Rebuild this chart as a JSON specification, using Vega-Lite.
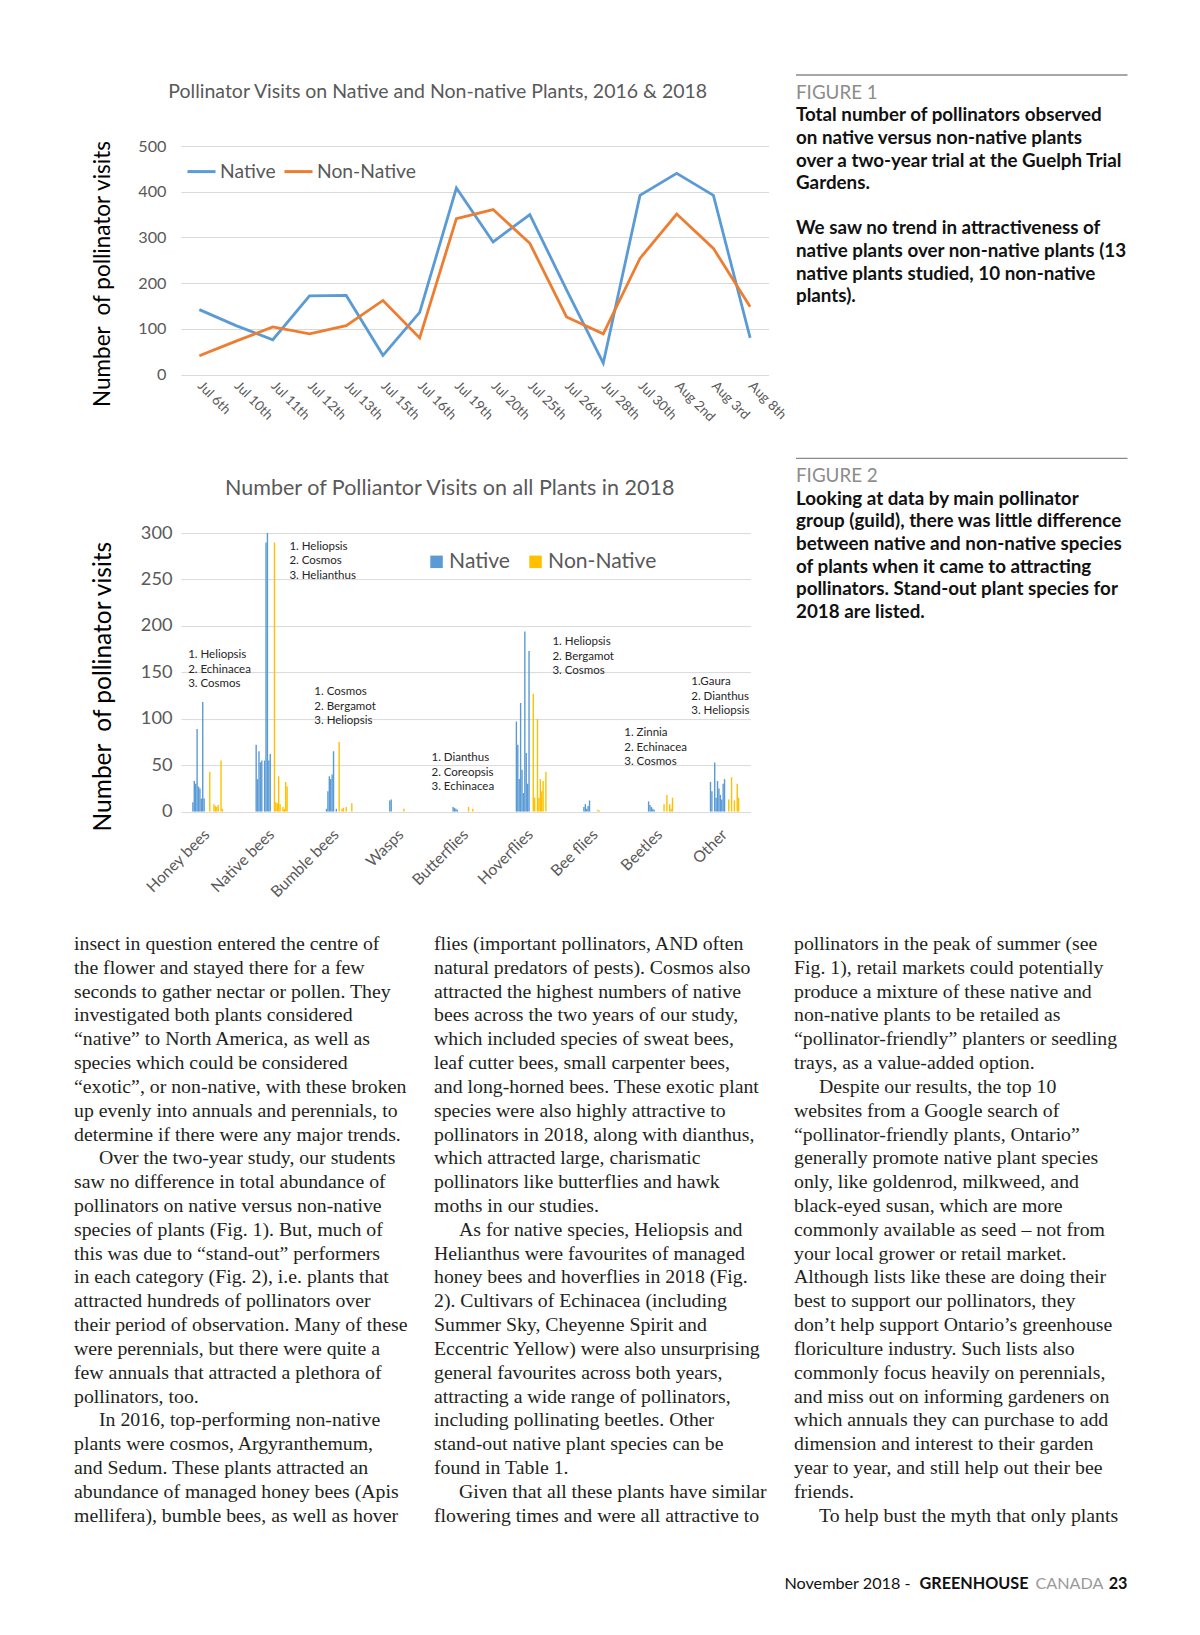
{
  "$schema": "https://vega.github.io/schema/vega-lite/v6.json",
  "background": "white",
  "padding": {"left": 74, "top": 74, "right": 0, "bottom": 0},
  "config": {
    "view": {"stroke": null},
    "font": "Lato",
    "axis": {"labelFont": "Lato", "titleFont": "Lato"},
    "legend": {"labelFont": "Lato"},
    "title": {"font": "Lato"}
  },
  "datasets": {
    "visits": [
      {"date": "Jul 6th", "series": "Native", "visits": 142},
      {"date": "Jul 10th", "series": "Native", "visits": 107},
      {"date": "Jul 11th", "series": "Native", "visits": 76},
      {"date": "Jul 12th", "series": "Native", "visits": 172},
      {"date": "Jul 13th", "series": "Native", "visits": 173},
      {"date": "Jul 15th", "series": "Native", "visits": 42},
      {"date": "Jul 16th", "series": "Native", "visits": 136},
      {"date": "Jul 19th", "series": "Native", "visits": 408},
      {"date": "Jul 20th", "series": "Native", "visits": 290},
      {"date": "Jul 25th", "series": "Native", "visits": 350},
      {"date": "Jul 26th", "series": "Native", "visits": 185},
      {"date": "Jul 28th", "series": "Native", "visits": 25},
      {"date": "Jul 30th", "series": "Native", "visits": 392},
      {"date": "Aug 2nd", "series": "Native", "visits": 440},
      {"date": "Aug 3rd", "series": "Native", "visits": 392},
      {"date": "Aug 8th", "series": "Native", "visits": 80},
      {"date": "Jul 6th", "series": "Non-Native", "visits": 41},
      {"date": "Jul 10th", "series": "Non-Native", "visits": 73},
      {"date": "Jul 11th", "series": "Non-Native", "visits": 104},
      {"date": "Jul 12th", "series": "Non-Native", "visits": 89},
      {"date": "Jul 13th", "series": "Non-Native", "visits": 107},
      {"date": "Jul 15th", "series": "Non-Native", "visits": 162},
      {"date": "Jul 16th", "series": "Non-Native", "visits": 80},
      {"date": "Jul 19th", "series": "Non-Native", "visits": 341},
      {"date": "Jul 20th", "series": "Non-Native", "visits": 361},
      {"date": "Jul 25th", "series": "Non-Native", "visits": 287},
      {"date": "Jul 26th", "series": "Non-Native", "visits": 126},
      {"date": "Jul 28th", "series": "Non-Native", "visits": 89},
      {"date": "Jul 30th", "series": "Non-Native", "visits": 254},
      {"date": "Aug 2nd", "series": "Non-Native", "visits": 351},
      {"date": "Aug 3rd", "series": "Non-Native", "visits": 276},
      {"date": "Aug 8th", "series": "Non-Native", "visits": 148}
    ],
    "guild": [
      {"g": "Honey bees", "p": "N02", "t": "Native", "v": 10},
      {"g": "Honey bees", "p": "N03", "t": "Native", "v": 33},
      {"g": "Honey bees", "p": "N04", "t": "Native", "v": 30},
      {"g": "Honey bees", "p": "N05", "t": "Native", "v": 89},
      {"g": "Honey bees", "p": "N06", "t": "Native", "v": 27},
      {"g": "Honey bees", "p": "N07", "t": "Native", "v": 25},
      {"g": "Honey bees", "p": "N08", "t": "Native", "v": 14},
      {"g": "Honey bees", "p": "N09", "t": "Native", "v": 118},
      {"g": "Honey bees", "p": "N10", "t": "Native", "v": 14},
      {"g": "Honey bees", "p": "X01", "t": "Non-Native", "v": 43},
      {"g": "Honey bees", "p": "X04", "t": "Non-Native", "v": 8},
      {"g": "Honey bees", "p": "X05", "t": "Non-Native", "v": 6},
      {"g": "Honey bees", "p": "X06", "t": "Non-Native", "v": 5},
      {"g": "Honey bees", "p": "X07", "t": "Non-Native", "v": 7},
      {"g": "Honey bees", "p": "X09", "t": "Non-Native", "v": 55},
      {"g": "Honey bees", "p": "X10", "t": "Non-Native", "v": 3},
      {"g": "Native bees", "p": "N01", "t": "Native", "v": 72},
      {"g": "Native bees", "p": "N02", "t": "Native", "v": 35},
      {"g": "Native bees", "p": "N03", "t": "Native", "v": 65},
      {"g": "Native bees", "p": "N04", "t": "Native", "v": 53},
      {"g": "Native bees", "p": "N05", "t": "Native", "v": 55},
      {"g": "Native bees", "p": "N07", "t": "Native", "v": 55},
      {"g": "Native bees", "p": "N08", "t": "Native", "v": 290},
      {"g": "Native bees", "p": "N09", "t": "Native", "v": 300},
      {"g": "Native bees", "p": "N10", "t": "Native", "v": 55},
      {"g": "Native bees", "p": "N11", "t": "Native", "v": 62},
      {"g": "Native bees", "p": "X01", "t": "Non-Native", "v": 290},
      {"g": "Native bees", "p": "X02", "t": "Non-Native", "v": 10},
      {"g": "Native bees", "p": "X03", "t": "Non-Native", "v": 9},
      {"g": "Native bees", "p": "X04", "t": "Non-Native", "v": 38},
      {"g": "Native bees", "p": "X05", "t": "Non-Native", "v": 8},
      {"g": "Native bees", "p": "X07", "t": "Non-Native", "v": 5},
      {"g": "Native bees", "p": "X08", "t": "Non-Native", "v": 3},
      {"g": "Native bees", "p": "X09", "t": "Non-Native", "v": 32},
      {"g": "Native bees", "p": "X10", "t": "Non-Native", "v": 27},
      {"g": "Bumble bees", "p": "N05", "t": "Native", "v": 3},
      {"g": "Bumble bees", "p": "N06", "t": "Native", "v": 22},
      {"g": "Bumble bees", "p": "N07", "t": "Native", "v": 38},
      {"g": "Bumble bees", "p": "N08", "t": "Native", "v": 35},
      {"g": "Bumble bees", "p": "N09", "t": "Native", "v": 40},
      {"g": "Bumble bees", "p": "N10", "t": "Native", "v": 65},
      {"g": "Bumble bees", "p": "N12", "t": "Native", "v": 3},
      {"g": "Bumble bees", "p": "X01", "t": "Non-Native", "v": 75},
      {"g": "Bumble bees", "p": "X03", "t": "Non-Native", "v": 3},
      {"g": "Bumble bees", "p": "X04", "t": "Non-Native", "v": 4},
      {"g": "Bumble bees", "p": "X06", "t": "Non-Native", "v": 5},
      {"g": "Bumble bees", "p": "X10", "t": "Non-Native", "v": 9},
      {"g": "Wasps", "p": "N04", "t": "Native", "v": 12},
      {"g": "Wasps", "p": "N05", "t": "Native", "v": 13},
      {"g": "Wasps", "p": "X01", "t": "Non-Native", "v": 3},
      {"g": "Butterflies", "p": "N03", "t": "Native", "v": 5},
      {"g": "Butterflies", "p": "N04", "t": "Native", "v": 4},
      {"g": "Butterflies", "p": "N05", "t": "Native", "v": 3},
      {"g": "Butterflies", "p": "N06", "t": "Native", "v": 2},
      {"g": "Butterflies", "p": "X01", "t": "Non-Native", "v": 5},
      {"g": "Butterflies", "p": "X04", "t": "Non-Native", "v": 3},
      {"g": "Hoverflies", "p": "N02", "t": "Native", "v": 97},
      {"g": "Hoverflies", "p": "N03", "t": "Native", "v": 72},
      {"g": "Hoverflies", "p": "N04", "t": "Native", "v": 35},
      {"g": "Hoverflies", "p": "N05", "t": "Native", "v": 117},
      {"g": "Hoverflies", "p": "N06", "t": "Native", "v": 45},
      {"g": "Hoverflies", "p": "N07", "t": "Native", "v": 20},
      {"g": "Hoverflies", "p": "N08", "t": "Native", "v": 194},
      {"g": "Hoverflies", "p": "N09", "t": "Native", "v": 63},
      {"g": "Hoverflies", "p": "N10", "t": "Native", "v": 30},
      {"g": "Hoverflies", "p": "N11", "t": "Native", "v": 173},
      {"g": "Hoverflies", "p": "X01", "t": "Non-Native", "v": 127},
      {"g": "Hoverflies", "p": "X02", "t": "Non-Native", "v": 15},
      {"g": "Hoverflies", "p": "X04", "t": "Non-Native", "v": 100},
      {"g": "Hoverflies", "p": "X05", "t": "Non-Native", "v": 15},
      {"g": "Hoverflies", "p": "X06", "t": "Non-Native", "v": 35},
      {"g": "Hoverflies", "p": "X07", "t": "Non-Native", "v": 22},
      {"g": "Hoverflies", "p": "X08", "t": "Non-Native", "v": 33},
      {"g": "Hoverflies", "p": "X10", "t": "Non-Native", "v": 43},
      {"g": "Bee flies", "p": "N04", "t": "Native", "v": 5},
      {"g": "Bee flies", "p": "N05", "t": "Native", "v": 8},
      {"g": "Bee flies", "p": "N06", "t": "Native", "v": 3},
      {"g": "Bee flies", "p": "N07", "t": "Native", "v": 6},
      {"g": "Bee flies", "p": "N08", "t": "Native", "v": 12},
      {"g": "Bee flies", "p": "X01", "t": "Non-Native", "v": 2},
      {"g": "Bee flies", "p": "X02", "t": "Non-Native", "v": 1},
      {"g": "Beetles", "p": "N04", "t": "Native", "v": 11},
      {"g": "Beetles", "p": "N05", "t": "Native", "v": 7},
      {"g": "Beetles", "p": "N06", "t": "Native", "v": 5},
      {"g": "Beetles", "p": "N07", "t": "Native", "v": 3},
      {"g": "Beetles", "p": "N08", "t": "Native", "v": 2},
      {"g": "Beetles", "p": "X02", "t": "Non-Native", "v": 8},
      {"g": "Beetles", "p": "X04", "t": "Non-Native", "v": 18},
      {"g": "Beetles", "p": "X06", "t": "Non-Native", "v": 8},
      {"g": "Beetles", "p": "X07", "t": "Non-Native", "v": 3},
      {"g": "Beetles", "p": "X08", "t": "Non-Native", "v": 15},
      {"g": "Other", "p": "N02", "t": "Native", "v": 32},
      {"g": "Other", "p": "N03", "t": "Native", "v": 22},
      {"g": "Other", "p": "N05", "t": "Native", "v": 53},
      {"g": "Other", "p": "N06", "t": "Native", "v": 15},
      {"g": "Other", "p": "N07", "t": "Native", "v": 33},
      {"g": "Other", "p": "N08", "t": "Native", "v": 25},
      {"g": "Other", "p": "N09", "t": "Native", "v": 18},
      {"g": "Other", "p": "N10", "t": "Native", "v": 13},
      {"g": "Other", "p": "N11", "t": "Native", "v": 30},
      {"g": "Other", "p": "N12", "t": "Native", "v": 35},
      {"g": "Other", "p": "X02", "t": "Non-Native", "v": 13},
      {"g": "Other", "p": "X04", "t": "Non-Native", "v": 37},
      {"g": "Other", "p": "X06", "t": "Non-Native", "v": 12},
      {"g": "Other", "p": "X08", "t": "Non-Native", "v": 30},
      {"g": "Other", "p": "X09", "t": "Non-Native", "v": 15}
    ],
    "notes": [
      {"g": "Honey bees", "shift": -0.08, "at": 175, "text": "1. Heliopsis\n2. Echinacea\n3. Cosmos"},
      {"g": "Native bees", "shift": 1.05, "at": 292, "text": "1. Heliopsis\n2. Cosmos\n3. Helianthus"},
      {"g": "Bumble bees", "shift": -0.18, "at": 135, "text": "1. Cosmos\n2. Bergamot\n3. Heliopsis"},
      {"g": "Butterflies", "shift": -0.56, "at": 64, "text": "1. Dianthus\n2. Coreopsis\n3. Echinacea"},
      {"g": "Hoverflies", "shift": 1.18, "at": 189, "text": "1. Heliopsis\n2. Bergamot\n3. Cosmos"},
      {"g": "Beetles", "shift": -0.6, "at": 91, "text": "1. Zinnia\n2. Echinacea\n3. Cosmos"},
      {"g": "Other", "shift": -0.53, "at": 146, "text": "1.Gaura\n2. Dianthus\n3. Heliopsis"}
    ],
    "captions": [
      {"fig": 1, "col": 0, "line": 0, "kind": "label", "text": "FIGURE 1"},
      {"fig": 1, "col": 0, "line": 1, "kind": "body", "text": "Total number of pollinators observed"},
      {"fig": 1, "col": 0, "line": 2, "kind": "body", "text": "on native versus non-native plants"},
      {"fig": 1, "col": 0, "line": 3, "kind": "body", "text": "over a two-year trial at the Guelph Trial"},
      {"fig": 1, "col": 0, "line": 4, "kind": "body", "text": "Gardens."},
      {"fig": 1, "col": 0, "line": 6, "kind": "body", "text": "We saw no trend in attractiveness of"},
      {"fig": 1, "col": 0, "line": 7, "kind": "body", "text": "native plants over non-native plants (13"},
      {"fig": 1, "col": 0, "line": 8, "kind": "body", "text": "native plants studied, 10 non-native"},
      {"fig": 1, "col": 0, "line": 9, "kind": "body", "text": "plants)."},
      {"fig": 2, "col": 0, "line": 0, "kind": "label", "text": "FIGURE 2"},
      {"fig": 2, "col": 0, "line": 1, "kind": "body", "text": "Looking at data by main pollinator"},
      {"fig": 2, "col": 0, "line": 2, "kind": "body", "text": "group (guild), there was little difference"},
      {"fig": 2, "col": 0, "line": 3, "kind": "body", "text": "between native and non-native species"},
      {"fig": 2, "col": 0, "line": 4, "kind": "body", "text": "of plants when it came to attracting"},
      {"fig": 2, "col": 0, "line": 5, "kind": "body", "text": "pollinators. Stand-out plant species for"},
      {"fig": 2, "col": 0, "line": 6, "kind": "body", "text": "2018 are listed."}
    ],
    "body": [
      {"col": 1, "line": 0, "para": false, "text": "insect in question entered the centre of"},
      {"col": 1, "line": 1, "para": false, "text": "the flower and stayed there for a few"},
      {"col": 1, "line": 2, "para": false, "text": "seconds to gather nectar or pollen. They"},
      {"col": 1, "line": 3, "para": false, "text": "investigated both plants considered"},
      {"col": 1, "line": 4, "para": false, "text": "“native” to North America, as well as"},
      {"col": 1, "line": 5, "para": false, "text": "species which could be considered"},
      {"col": 1, "line": 6, "para": false, "text": "“exotic”, or non-native, with these broken"},
      {"col": 1, "line": 7, "para": false, "text": "up evenly into annuals and perennials, to"},
      {"col": 1, "line": 8, "para": false, "text": "determine if there were any major trends."},
      {"col": 1, "line": 9, "para": true, "text": "Over the two-year study, our students"},
      {"col": 1, "line": 10, "para": false, "text": "saw no difference in total abundance of"},
      {"col": 1, "line": 11, "para": false, "text": "pollinators on native versus non-native"},
      {"col": 1, "line": 12, "para": false, "text": "species of plants (Fig. 1). But, much of"},
      {"col": 1, "line": 13, "para": false, "text": "this was due to “stand-out” performers"},
      {"col": 1, "line": 14, "para": false, "text": "in each category (Fig. 2), i.e. plants that"},
      {"col": 1, "line": 15, "para": false, "text": "attracted hundreds of pollinators over"},
      {"col": 1, "line": 16, "para": false, "text": "their period of observation. Many of these"},
      {"col": 1, "line": 17, "para": false, "text": "were perennials, but there were quite a"},
      {"col": 1, "line": 18, "para": false, "text": "few annuals that attracted a plethora of"},
      {"col": 1, "line": 19, "para": false, "text": "pollinators, too."},
      {"col": 1, "line": 20, "para": true, "text": "In 2016, top-performing non-native"},
      {"col": 1, "line": 21, "para": false, "text": "plants were cosmos, Argyranthemum,"},
      {"col": 1, "line": 22, "para": false, "text": "and Sedum. These plants attracted an"},
      {"col": 1, "line": 23, "para": false, "text": "abundance of managed honey bees (Apis"},
      {"col": 1, "line": 24, "para": false, "text": "mellifera), bumble bees, as well as hover"},
      {"col": 2, "line": 0, "para": false, "text": "flies (important pollinators, AND often"},
      {"col": 2, "line": 1, "para": false, "text": "natural predators of pests). Cosmos also"},
      {"col": 2, "line": 2, "para": false, "text": "attracted the highest numbers of native"},
      {"col": 2, "line": 3, "para": false, "text": "bees across the two years of our study,"},
      {"col": 2, "line": 4, "para": false, "text": "which included species of sweat bees,"},
      {"col": 2, "line": 5, "para": false, "text": "leaf cutter bees, small carpenter bees,"},
      {"col": 2, "line": 6, "para": false, "text": "and long-horned bees. These exotic plant"},
      {"col": 2, "line": 7, "para": false, "text": "species were also highly attractive to"},
      {"col": 2, "line": 8, "para": false, "text": "pollinators in 2018, along with dianthus,"},
      {"col": 2, "line": 9, "para": false, "text": "which attracted large, charismatic"},
      {"col": 2, "line": 10, "para": false, "text": "pollinators like butterflies and hawk"},
      {"col": 2, "line": 11, "para": false, "text": "moths in our studies."},
      {"col": 2, "line": 12, "para": true, "text": "As for native species, Heliopsis and"},
      {"col": 2, "line": 13, "para": false, "text": "Helianthus were favourites of managed"},
      {"col": 2, "line": 14, "para": false, "text": "honey bees and hoverflies in 2018 (Fig."},
      {"col": 2, "line": 15, "para": false, "text": "2). Cultivars of Echinacea (including"},
      {"col": 2, "line": 16, "para": false, "text": "Summer Sky, Cheyenne Spirit and"},
      {"col": 2, "line": 17, "para": false, "text": "Eccentric Yellow) were also unsurprising"},
      {"col": 2, "line": 18, "para": false, "text": "general favourites across both years,"},
      {"col": 2, "line": 19, "para": false, "text": "attracting a wide range of pollinators,"},
      {"col": 2, "line": 20, "para": false, "text": "including pollinating beetles. Other"},
      {"col": 2, "line": 21, "para": false, "text": "stand-out native plant species can be"},
      {"col": 2, "line": 22, "para": false, "text": "found in Table 1."},
      {"col": 2, "line": 23, "para": true, "text": "Given that all these plants have similar"},
      {"col": 2, "line": 24, "para": false, "text": "flowering times and were all attractive to"},
      {"col": 3, "line": 0, "para": false, "text": "pollinators in the peak of summer (see"},
      {"col": 3, "line": 1, "para": false, "text": "Fig. 1), retail markets could potentially"},
      {"col": 3, "line": 2, "para": false, "text": "produce a mixture of these native and"},
      {"col": 3, "line": 3, "para": false, "text": "non-native plants to be retailed as"},
      {"col": 3, "line": 4, "para": false, "text": "“pollinator-friendly” planters or seedling"},
      {"col": 3, "line": 5, "para": false, "text": "trays, as a value-added option."},
      {"col": 3, "line": 6, "para": true, "text": "Despite our results, the top 10"},
      {"col": 3, "line": 7, "para": false, "text": "websites from a Google search of"},
      {"col": 3, "line": 8, "para": false, "text": "“pollinator-friendly plants, Ontario”"},
      {"col": 3, "line": 9, "para": false, "text": "generally promote native plant species"},
      {"col": 3, "line": 10, "para": false, "text": "only, like goldenrod, milkweed, and"},
      {"col": 3, "line": 11, "para": false, "text": "black-eyed susan, which are more"},
      {"col": 3, "line": 12, "para": false, "text": "commonly available as seed – not from"},
      {"col": 3, "line": 13, "para": false, "text": "your local grower or retail market."},
      {"col": 3, "line": 14, "para": false, "text": "Although lists like these are doing their"},
      {"col": 3, "line": 15, "para": false, "text": "best to support our pollinators, they"},
      {"col": 3, "line": 16, "para": false, "text": "don’t help support Ontario’s greenhouse"},
      {"col": 3, "line": 17, "para": false, "text": "floriculture industry. Such lists also"},
      {"col": 3, "line": 18, "para": false, "text": "commonly focus heavily on perennials,"},
      {"col": 3, "line": 19, "para": false, "text": "and miss out on informing gardeners on"},
      {"col": 3, "line": 20, "para": false, "text": "which annuals they can purchase to add"},
      {"col": 3, "line": 21, "para": false, "text": "dimension and interest to their garden"},
      {"col": 3, "line": 22, "para": false, "text": "year to year, and still help out their bee"},
      {"col": 3, "line": 23, "para": false, "text": "friends."},
      {"col": 3, "line": 24, "para": true, "text": "To help bust the myth that only plants"}
    ],
    "footer": [
      {"seg": 1, "text": "November 2018 -"},
      {"seg": 2, "text": "GREENHOUSE"},
      {"seg": 3, "text": "CANADA"},
      {"seg": 4, "text": "23"}
    ]
  },
  "spacing": 34,
  "resolve": {"scale": {"color": "independent"}, "legend": {"color": "independent"}},
  "vconcat": [
    {
      "spacing": 6,
      "resolve": {"scale": {"color": "independent"}, "legend": {"color": "independent"}},
      "hconcat": [
        {"width": 9.7, "height": 1, "data": {"values": []}, "mark": "point"},
        {
          "spacing": 53.1,
          "resolve": {"scale": {"color": "independent"}, "legend": {"color": "independent"}},
          "vconcat": [
            {
              "width": 587.5,
              "height": 228.5,
              "data": {"name": "visits"},
              "title": {"text": "Pollinator Visits on Native and Non-native Plants, 2016 & 2018", "fontSize": 19.5, "fontWeight": "normal", "color": "#595959", "offset": 36, "dx": -37, "anchor": "middle"},
              "mark": {"type": "line", "strokeWidth": 2.8},
              "encoding": {
                "x": {"field": "date", "type": "ordinal", "sort": null, "scale": {"type": "point", "padding": 0.5},
                  "axis": {"title": null, "labelAngle": 45, "labelAlign": "left", "labelBaseline": "middle", "labelFontSize": 13.5, "labelColor": "#595959", "labelPadding": 9, "domain": false, "ticks": false, "grid": false}},
                "y": {"field": "visits", "type": "quantitative", "scale": {"domain": [0, 500]},
                  "axis": {"values": [0, 100, 200, 300, 400, 500], "title": "Number \u2005of pollinator visits", "titleFontSize": 22.5, "titleFontWeight": "normal", "titleColor": "#000000", "titlePadding": 23, "titleY": 127.5, "labelFontSize": 16.2, "labelColor": "#595959", "labelPadding": 15, "domain": false, "ticks": false, "gridColor": "#D9D9D9"}},
                "color": {"field": "series", "type": "nominal", "scale": {"domain": ["Native", "Non-Native"], "range": ["#5B9BD5", "#ED7D31"]},
                  "legend": {"title": null, "orient": "none", "legendX": 5, "legendY": 10, "direction": "horizontal", "symbolType": "stroke", "symbolStrokeWidth": 3, "symbolSize": 784, "labelFontSize": 19.3, "labelColor": "#595959", "columnPadding": 2, "labelOffset": 3}}
              }
            },
            {
              "width": 569.5,
              "height": 278.5,
              "title": {"text": "Number of Polliantor Visits on all Plants in 2018", "fontSize": 21.5, "fontWeight": "normal", "color": "#595959", "offset": 24, "dx": -16, "anchor": "middle"},
              "layer": [
                {
                  "data": {"name": "guild"},
                  "mark": {"type": "bar"},
                  "encoding": {
                    "x": {"field": "g", "type": "nominal", "title": null,
                      "sort": ["Honey bees", "Native bees", "Bumble bees", "Wasps", "Butterflies", "Hoverflies", "Bee flies", "Beetles", "Other"],
                      "scale": {"domain": ["Honey bees", "Native bees", "Bumble bees", "Wasps", "Butterflies", "Hoverflies", "Bee flies", "Beetles", "Other"], "paddingInner": 0.5, "paddingOuter": 0.151},
                      "axis": {"title": null, "labelAngle": -45, "labelAlign": "right", "labelBaseline": "middle", "labelFontSize": 15.7, "labelColor": "#595959", "labelPadding": 20, "domain": false, "ticks": false, "grid": false}},
                    "xOffset": {"field": "p", "type": "nominal",
                      "scale": {"domain": ["N01", "N02", "N03", "N04", "N05", "N06", "N07", "N08", "N09", "N10", "N11", "N12", "N13", "X01", "X02", "X03", "X04", "X05", "X06", "X07", "X08", "X09", "X10"], "paddingInner": 0, "paddingOuter": 0}},
                    "y": {"field": "v", "type": "quantitative", "title": "Number \u2005of pollinator visits", "scale": {"domain": [0, 300]},
                      "axis": {"values": [0, 50, 100, 150, 200, 250, 300], "titleFontSize": 24.5, "titleFontWeight": "normal", "titleColor": "#000000", "titlePadding": 25, "titleY": 153, "labelFontSize": 18.2, "labelColor": "#595959", "labelPadding": 9, "domain": false, "ticks": false, "gridColor": "#D9D9D9"}},
                    "color": {"field": "t", "type": "nominal", "scale": {"domain": ["Native", "Non-Native"], "range": ["#5B9BD5", "#FFC000"]},
                      "legend": {"title": null, "orient": "none", "legendX": 245, "legendY": 18, "direction": "horizontal", "symbolType": "square", "symbolSize": 156, "symbolStrokeWidth": 0, "labelFontSize": 21.1, "labelColor": "#595959", "columnPadding": 15, "labelOffset": 2}}
                  }
                },
                {
                  "data": {"name": "notes"},
                  "mark": {"type": "text", "align": "left", "baseline": "top", "fontSize": 11.5, "lineHeight": 14.6, "lineBreak": "\n", "color": "#262626"},
                  "encoding": {
                    "x": {"field": "g", "type": "nominal", "title": null, "sort": ["Honey bees", "Native bees", "Bumble bees", "Wasps", "Butterflies", "Hoverflies", "Bee flies", "Beetles", "Other"]},
                    "xOffset": {"field": "shift", "type": "quantitative", "scale": {"domain": [0, 1], "range": [0, 32.35]}},
                    "y": {"field": "at", "type": "quantitative", "title": "Number \u2005of pollinator visits"},
                    "text": {"field": "text"}
                  }
                }
              ],
              "resolve": {"scale": {"xOffset": "independent"}}
            }
          ]
        },
        {
          "spacing": 82.4,
          "vconcat": [
            {
              "width": 331.5,
              "height": 228.5,
              "data": {"name": "captions"},
              "transform": [{"filter": "datum.fig == 1"}],
              "layer": [
                {"transform": [{"filter": "datum.kind == 'label'"}], "mark": {"type": "rule", "color": "#8a8a8a", "strokeWidth": 1.4},
                  "encoding": {"x": {"datum": 0, "type": "quantitative", "scale": {"domain": [0, 1]}, "axis": null}, "x2": {"datum": 1},
                    "y": {"datum": -0.788, "type": "quantitative", "scale": {"domain": [2.354, 12.465], "reverse": true, "nice": false, "zero": false}, "axis": null}}},
                {"transform": [{"filter": "datum.kind == 'label'"}], "mark": {"type": "text", "align": "left", "baseline": "middle", "fontSize": 18.8, "color": "#8c8c8c"},
                  "encoding": {"x": {"field": "col", "type": "quantitative"}, "y": {"field": "line", "type": "quantitative"}, "text": {"field": "text"}}},
                {"transform": [{"filter": "datum.kind == 'body'"}], "mark": {"type": "text", "align": "left", "baseline": "middle", "fontSize": 18.8, "fontWeight": "bold", "color": "#111111"},
                  "encoding": {"x": {"field": "col", "type": "quantitative"}, "y": {"field": "line", "type": "quantitative"}, "text": {"field": "text"}}}
              ]
            },
            {
              "width": 331.5,
              "height": 228.5,
              "data": {"name": "captions"},
              "transform": [{"filter": "datum.fig == 2"}],
              "layer": [
                {"transform": [{"filter": "datum.kind == 'label'"}], "mark": {"type": "rule", "color": "#8a8a8a", "strokeWidth": 1.4},
                  "encoding": {"x": {"datum": 0, "type": "quantitative", "scale": {"domain": [0, 1]}, "axis": null}, "x2": {"datum": 1},
                    "y": {"datum": -0.788, "type": "quantitative", "scale": {"domain": [2.354, 12.465], "reverse": true, "nice": false, "zero": false}, "axis": null}}},
                {"transform": [{"filter": "datum.kind == 'label'"}], "mark": {"type": "text", "align": "left", "baseline": "middle", "fontSize": 18.8, "color": "#8c8c8c"},
                  "encoding": {"x": {"field": "col", "type": "quantitative"}, "y": {"field": "line", "type": "quantitative"}, "text": {"field": "text"}}},
                {"transform": [{"filter": "datum.kind == 'body'"}], "mark": {"type": "text", "align": "left", "baseline": "middle", "fontSize": 18.8, "fontWeight": "bold", "color": "#111111"},
                  "encoding": {"x": {"field": "col", "type": "quantitative"}, "y": {"field": "line", "type": "quantitative"}, "text": {"field": "text"}}}
              ]
            }
          ]
        }
      ]
    },
    {
      "width": 1053.5,
      "height": 571.7,
      "layer": [
        {
          "data": {"name": "body"},
          "transform": [{"filter": "!datum.para"}],
          "mark": {"type": "text", "align": "left", "baseline": "middle", "font": "Liberation Serif", "fontSize": 19.8, "color": "#231f20"},
          "encoding": {
            "x": {"field": "col", "type": "quantitative", "scale": {"domain": [1, 3.9264], "nice": false, "zero": false}, "axis": null},
            "y": {"field": "line", "type": "quantitative", "scale": {"domain": [0, 24], "reverse": true, "nice": false, "zero": false}, "axis": null},
            "text": {"field": "text"}
          }
        },
        {
          "data": {"name": "body"},
          "transform": [{"filter": "datum.para"}],
          "mark": {"type": "text", "align": "left", "baseline": "middle", "font": "Liberation Serif", "fontSize": 19.8, "color": "#231f20", "dx": 25},
          "encoding": {
            "x": {"field": "col", "type": "quantitative"},
            "y": {"field": "line", "type": "quantitative"},
            "text": {"field": "text"}
          }
        },
        {
          "data": {"name": "footer"},
          "transform": [{"filter": "datum.seg == 1"}],
          "mark": {"type": "text", "align": "right", "baseline": "middle", "fontSize": 16.2, "color": "#111111", "dx": -217},
          "encoding": {"x": {"value": "width"}, "y": {"datum": 26.87}, "text": {"field": "text"}}
        },
        {
          "data": {"name": "footer"},
          "transform": [{"filter": "datum.seg == 2"}],
          "mark": {"type": "text", "align": "right", "baseline": "middle", "fontSize": 16.2, "fontWeight": "bold", "color": "#111111", "dx": -99},
          "encoding": {"x": {"value": "width"}, "y": {"datum": 26.87}, "text": {"field": "text"}}
        },
        {
          "data": {"name": "footer"},
          "transform": [{"filter": "datum.seg == 3"}],
          "mark": {"type": "text", "align": "right", "baseline": "middle", "fontSize": 16.2, "color": "#9a9a9a", "dx": -24},
          "encoding": {"x": {"value": "width"}, "y": {"datum": 26.87}, "text": {"field": "text"}}
        },
        {
          "data": {"name": "footer"},
          "transform": [{"filter": "datum.seg == 4"}],
          "mark": {"type": "text", "align": "right", "baseline": "middle", "fontSize": 16.2, "fontWeight": "bold", "color": "#111111"},
          "encoding": {"x": {"value": "width"}, "y": {"datum": 26.87}, "text": {"field": "text"}}
        }
      ]
    }
  ]
}
